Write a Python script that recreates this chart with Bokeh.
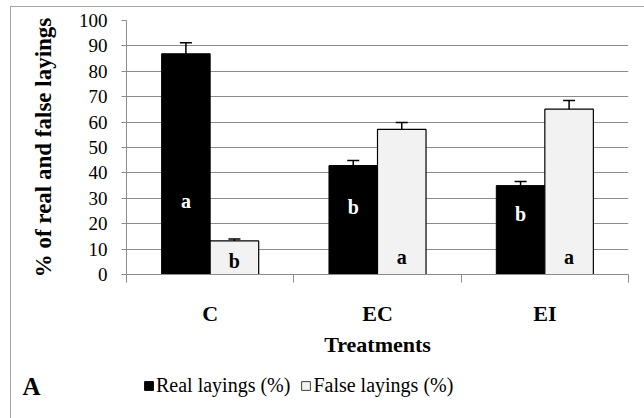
from bokeh.plotting import figure
from bokeh.layouts import column
from bokeh.models import (ColumnDataSource, FixedTicker, Whisker, TeeHead, Legend,
                          LegendItem, Range1d, LinearAxis)
from bokeh.core.properties import value
from bokeh.embed import file_html
from bokeh.resources import INLINE

categories = ["C", "EC", "EI"]
real = [86.9, 42.9, 35.0]
real_err = [4.3, 2.0, 1.6]
false = [13.2, 57.1, 65.1]
false_err = [0.8, 2.7, 3.4]
real_letters = ["a", "b", "b"]
false_letters = ["b", "a", "a"]
real_letter_y = [29, 26.5, 24]
false_letter_y = [5.2, 7, 7]
y_ticks = [0, 10, 20, 30, 40, 50, 60, 70, 80, 90, 100]
series_names = ["Real layings (%)", "False layings (%)"]
panel_tag = "A"

SERIF = "Times New Roman"
GRID = "#8c8c8c"
REAL_FILL = "black"
FALSE_FILL = "#f2f2f2"

centers = [i + 0.5 for i in range(len(categories))]
bw = 0.29
xr = [c - bw / 2 for c in centers]
xf = [c + bw / 2 for c in centers]

p = figure(width=633, height=355, output_backend="svg", toolbar_location=None,
           x_range=Range1d(0, 3), y_range=Range1d(0, 100),
           min_border_left=115, min_border_right=16, min_border_top=13,
           min_border_bottom=88)
p.outline_line_color = None
p.xgrid.grid_line_color = None
p.ygrid.grid_line_color = GRID
p.ygrid.grid_line_width = 1.2

src_r = ColumnDataSource(dict(x=xr, top=real, lo=[v - e for v, e in zip(real, real_err)],
                              hi=[v + e for v, e in zip(real, real_err)],
                              ly=real_letter_y, lt=real_letters))
src_f = ColumnDataSource(dict(x=xf, top=false, lo=[v - e for v, e in zip(false, false_err)],
                              hi=[v + e for v, e in zip(false, false_err)],
                              ly=false_letter_y, lt=false_letters))

p.vbar(x="x", top="top", width=bw, source=src_r, fill_color=REAL_FILL,
       line_color="black", line_width=1)
p.vbar(x="x", top="top", width=bw, source=src_f, fill_color=FALSE_FILL,
       line_color="black", line_width=1.2)

for s in (src_r, src_f):
    w = Whisker(base="x", upper="hi", lower="lo", source=s, line_color="black",
                line_width=1.5,
                upper_head=TeeHead(size=12, line_color="black", line_width=1.5),
                lower_head=TeeHead(size=12, line_color="black", line_width=1.5))
    p.add_layout(w)

p.text(x="x", y="ly", text="lt", source=src_r, text_color="white",
       text_font=value(SERIF), text_font_style="bold", text_font_size="20px",
       text_align="center", text_baseline="middle")
p.text(x="x", y="ly", text="lt", source=src_f, text_color="black",
       text_font=value(SERIF), text_font_style="bold", text_font_size="20px",
       text_align="center", text_baseline="middle")

# y axis
ya = p.yaxis[0]
ya.ticker = FixedTicker(ticks=y_ticks)
ya.axis_line_color = GRID
ya.major_tick_line_color = GRID
ya.major_tick_out = 5
ya.major_tick_in = 0
ya.minor_tick_line_color = None
ya.major_label_text_font = SERIF
ya.major_label_text_font_size = "19px"
ya.major_label_text_color = "black"
ya.major_label_standoff = 14
ya.axis_label = "% of real and false layings"
ya.axis_label_text_font = SERIF
ya.axis_label_text_font_style = "bold"
ya.axis_label_text_font_size = "23px"
ya.axis_label_text_color = "black"
ya.axis_label_standoff = 20

# x axis
xa = p.xaxis[0]
xa.ticker = FixedTicker(ticks=centers, minor_ticks=[0, 1, 2, 3])
xa.major_label_overrides = {c: n for c, n in zip(centers, categories)}
xa.axis_line_color = GRID
xa.major_tick_line_color = None
xa.minor_tick_line_color = GRID
xa.minor_tick_out = 8
xa.minor_tick_in = 0
xa.major_label_text_font = SERIF
xa.major_label_text_font_style = "bold"
xa.major_label_text_font_size = "22px"
xa.major_label_text_color = "black"
xa.major_label_standoff = 18
xa.axis_label = "Treatments"
xa.axis_label_text_font = SERIF
xa.axis_label_text_font_style = "bold"
xa.axis_label_text_font_size = "22px"
xa.axis_label_text_color = "black"
xa.axis_label_standoff = 3

# legend strip (its frame is aligned with the main frame, which starts 115px in)
pl = figure(width=633, height=56, output_backend="svg", toolbar_location=None,
            x_range=Range1d(0, 1), y_range=Range1d(0, 1),
            min_border_left=115, min_border_right=16,
            min_border_top=0, min_border_bottom=0)
pl.xaxis.visible = False
pl.yaxis.visible = False
pl.grid.visible = False
pl.outline_line_color = None

# panel tag "A" drawn as the single label of a left axis of the legend strip
tag_axis = LinearAxis(ticker=FixedTicker(ticks=[0.57], minor_ticks=[]),
                      major_label_overrides={0.57: panel_tag},
                      axis_line_color=None, major_tick_line_color=None,
                      minor_tick_line_color=None, major_tick_out=0, major_tick_in=0,
                      major_label_standoff=86,
                      major_label_text_font=SERIF, major_label_text_font_style="bold",
                      major_label_text_font_size="25px", major_label_text_color="black")
pl.add_layout(tag_axis, "left")

dummy = ColumnDataSource(dict(x=[-5.0], top=[0.0]))
l1 = pl.vbar(x="x", top="top", width=0.1, source=dummy, fill_color=REAL_FILL,
             line_color="black")
l2 = pl.vbar(x="x", top="top", width=0.1, source=dummy, fill_color=FALSE_FILL,
             line_color="#404040")
legend = Legend(items=[LegendItem(label=series_names[0], renderers=[l1]),
                       LegendItem(label=series_names[1], renderers=[l2])],
                orientation="horizontal", location=(17, 21), level="image",
                glyph_width=11, glyph_height=11, label_standoff=2, spacing=10,
                padding=0, margin=0, border_line_color=None,
                background_fill_alpha=0,
                label_text_font=SERIF, label_text_font_size="20px",
                label_text_color="black")
pl.add_layout(legend, "center")

layout = column(p, pl, spacing=0,
                styles={"margin-left": "10px", "margin-top": "6px",
                        "border-left": "1px solid #a6a6a6",
                        "border-top": "1px solid #a6a6a6"})

open("out.html", "w").write(file_html(layout, INLINE))
